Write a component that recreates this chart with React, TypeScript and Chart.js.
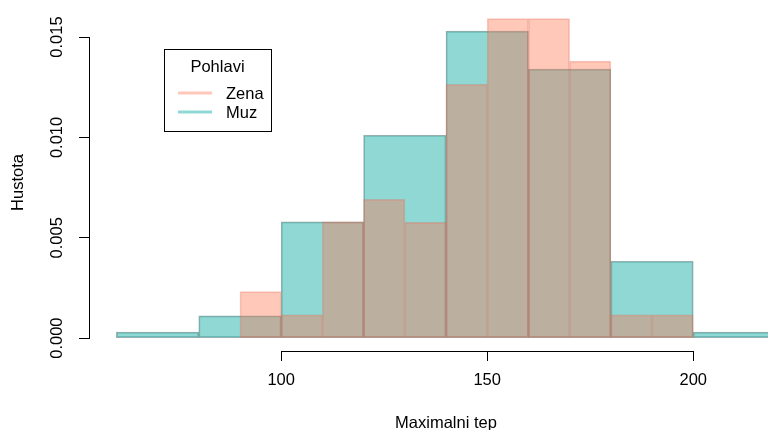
import React, { useEffect, useRef } from 'react';
import { Chart, registerables } from 'chart.js';

Chart.register(...registerables);

// ---- data ----
const seriesNames = ['Zena', 'Muz'];
const zenaBreaks = [90, 100, 110, 120, 130, 140, 150, 160, 170, 180, 190, 200];
const zenaDensity = [0.00232, 0.00116, 0.00579, 0.00692, 0.00577, 0.01265, 0.01592, 0.01592, 0.0138, 0.00116, 0.00116];
const muzBreaks = [60, 80, 100, 120, 140, 160, 180, 200, 220];
const muzDensity = [0.0003, 0.00111, 0.00579, 0.01011, 0.0153, 0.0134, 0.00383, 0.0003];
const xTicks = [100, 150, 200];
const xTickLabels = ['100', '150', '200'];
const yTicks = [0, 0.005, 0.01, 0.015];
const yTickLabels = ['0.000', '0.005', '0.010', '0.015'];
const xTitle = 'Maximalni tep';
const yTitle = 'Hustota';
const legendTitle = 'Pohlavi';

const X_MIN = 53.6;
const X_MAX = 226.4;
const Y_MIN = -0.00064;
const Y_MAX = 0.01615;

const FONT_FAMILY = "'Liberation Sans', Arial, Helvetica, sans-serif";
const FONT_SIZE = 16.5;
const font = { family: FONT_FAMILY, size: FONT_SIZE };

const toBins = (breaks: number[], dens: number[]) =>
  dens.map((d, i) => ({ x: (breaks[i] + breaks[i + 1]) / 2, y: d }));

const zenaFill = 'rgba(255,118,80,0.4)';
const muzFill = 'rgba(32,178,170,0.5)';

const rAxesAndLegend = {
  id: 'rAxesAndLegend',
  afterDraw(chart: any) {
    const { ctx, chartArea, scales } = chart;
    const x = scales.x;
    const y = scales.y;
    ctx.save();
    ctx.strokeStyle = '#000';
    ctx.lineWidth = 1;
    // x axis line (from first to last tick, R style)
    const yb = Math.round(chartArea.bottom) + 0.5;
    const x0 = Math.round(x.getPixelForValue(xTicks[0]) - 0.5) + 0.5;
    const x1 = Math.round(x.getPixelForValue(xTicks[xTicks.length - 1]) - 0.5) + 0.5;
    ctx.beginPath();
    ctx.moveTo(x0, yb);
    ctx.lineTo(x1, yb);
    ctx.stroke();
    // y axis line
    const xl = Math.round(chartArea.left) - 0.5;
    const y0 = Math.round(y.getPixelForValue(yTicks[0]) - 0.5) + 0.5;
    const y1 = Math.round(y.getPixelForValue(yTicks[yTicks.length - 1]) - 0.5) + 0.5;
    ctx.beginPath();
    ctx.moveTo(xl, y0);
    ctx.lineTo(xl, y1);
    ctx.stroke();

    // legend (R style box)
    const lx = chartArea.left + 74;
    const ly = chartArea.top + 35;
    const w = 107;
    const h = 82;
    ctx.fillStyle = '#fff';
    ctx.fillRect(lx, ly, w, h);
    ctx.strokeStyle = '#000';
    ctx.strokeRect(Math.round(lx) + 0.5, Math.round(ly) + 0.5, w, h);
    ctx.font = `${FONT_SIZE}px ${FONT_FAMILY}`;
    ctx.fillStyle = '#000';
    ctx.textBaseline = 'middle';
    ctx.textAlign = 'center';
    ctx.fillText(legendTitle, lx + w / 2, ly + 18);
    ctx.textAlign = 'left';
    chart.data.datasets.forEach((ds: any, i: number) => {
      const yy = ly + 45 + i * 19;
      ctx.strokeStyle = ds.backgroundColor;
      ctx.lineWidth = 3;
      ctx.beginPath();
      ctx.moveTo(lx + 14, yy - 1);
      ctx.lineTo(lx + 48, yy - 1);
      ctx.stroke();
      ctx.fillStyle = '#000';
      ctx.fillText(ds.label, lx + 62, yy);
    });
    ctx.restore();
  },
};

export default function App() {
  const canvasRef = useRef<HTMLCanvasElement | null>(null);

  useEffect(() => {
    if (!canvasRef.current) return;
    const setTicks = (list: number[]) => (s: any) => {
      s.ticks = list.map((v) => ({ value: v }));
    };
    const chart = new Chart(canvasRef.current, {
      type: 'bar',
      data: {
        datasets: [
          {
            label: seriesNames[0],
            data: toBins(zenaBreaks, zenaDensity),
            xAxisID: 'x2',
            backgroundColor: zenaFill,
            borderColor: 'rgba(225,100,80,0.35)',
            borderWidth: 1,
            borderSkipped: false,
            grouped: false,
            barPercentage: 1,
            categoryPercentage: 1,
          },
          {
            label: seriesNames[1],
            data: toBins(muzBreaks, muzDensity),
            xAxisID: 'x',
            backgroundColor: muzFill,
            borderColor: 'rgba(50,95,95,0.5)',
            borderWidth: 1,
            borderSkipped: false,
            grouped: false,
            barPercentage: 1,
            categoryPercentage: 1,
          },
        ],
      } as any,
      options: {
        responsive: false,
        animation: false,
        devicePixelRatio: 1,
        layout: { padding: { top: 14, left: 0, right: 28, bottom: 0 } },
        plugins: { legend: { display: false }, tooltip: { enabled: false } },
        scales: {
          x: {
            type: 'linear',
            position: 'bottom',
            min: X_MIN,
            max: X_MAX,
            offset: false,
            afterBuildTicks: setTicks(xTicks),
            afterFit: (s: any) => {
              s.height = 89;
            },
            grid: {
              display: true,
              offset: false,
              drawOnChartArea: false,
              drawTicks: true,
              tickLength: 10,
              color: '#000',
              lineWidth: 1,
            },
            border: { display: false },
            ticks: {
              color: '#000',
              font,
              padding: 10,
              maxRotation: 0,
              autoSkip: false,
              callback: (_v: any, i: number) => xTickLabels[i],
            },
            title: {
              display: true,
              text: xTitle,
              color: '#000',
              font,
              padding: { top: 0, bottom: 7 },
            },
          },
          x2: {
            type: 'linear',
            position: 'bottom',
            display: false,
            min: X_MIN,
            max: X_MAX,
            offset: false,
            afterBuildTicks: setTicks(xTicks),
          },
          y: {
            type: 'linear',
            position: 'left',
            min: Y_MIN,
            max: Y_MAX,
            afterBuildTicks: setTicks(yTicks),
            afterFit: (s: any) => {
              s.width = 90;
            },
            grid: {
              display: true,
              drawOnChartArea: false,
              drawTicks: true,
              tickLength: 11,
              color: '#000',
              lineWidth: 1,
            },
            border: { display: false },
            ticks: {
              color: '#000',
              font,
              padding: 1,
              minRotation: 90,
              maxRotation: 90,
              crossAlign: 'center',
              autoSkip: false,
              callback: (_v: any, i: number) => yTickLabels[i],
            },
            title: {
              display: true,
              text: yTitle,
              color: '#000',
              font,
              padding: { top: 9, bottom: 0 },
            },
          },
        },
      } as any,
      plugins: [rAxesAndLegend],
    });
    return () => chart.destroy();
  }, []);

  return (
    <div
      style={{
        position: 'absolute',
        left: 0,
        top: 0,
        width: 768,
        height: 430,
        overflow: 'hidden',
        background: '#fff',
      }}
    >
      <canvas ref={canvasRef} width={830} height={440} style={{ width: 830, height: 440, display: 'block' }} />
    </div>
  );
}
